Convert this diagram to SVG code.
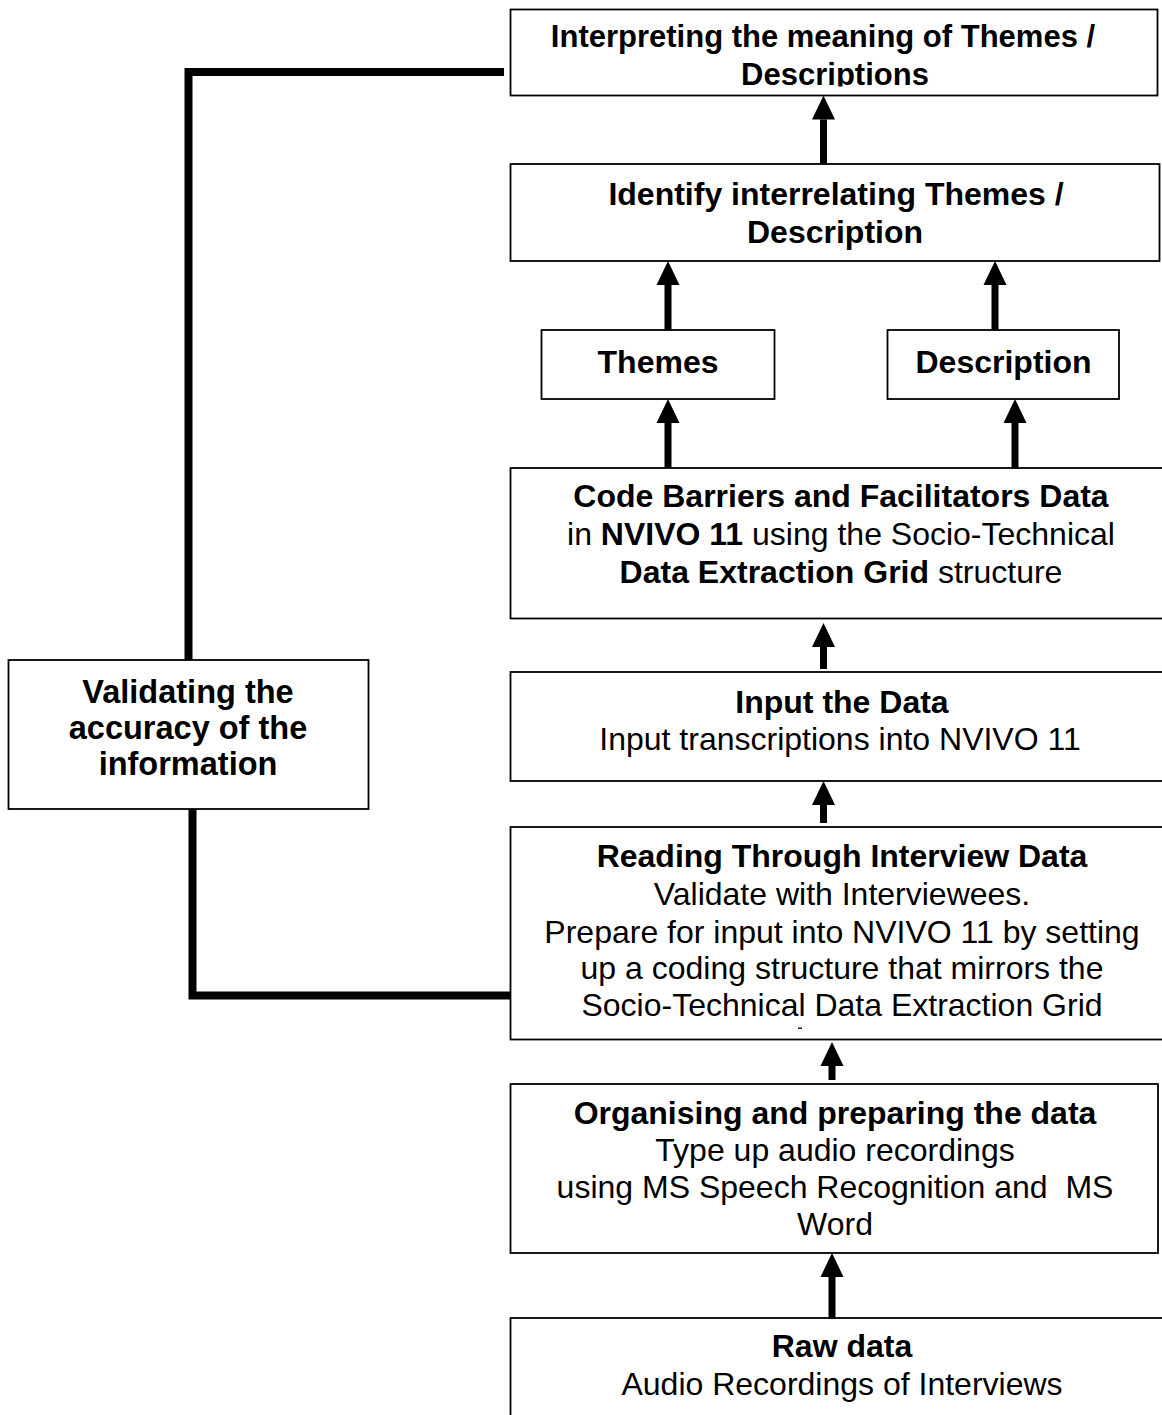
<svg xmlns="http://www.w3.org/2000/svg" width="1162" height="1415" viewBox="0 0 1162 1415">
  <style>
    .box { fill: #fff; stroke: #000; stroke-width: 1.8; }
    .t { font-family: "Liberation Sans", Arial, sans-serif; font-size: 32px; fill: #000; text-anchor: middle; }
    .b { font-weight: bold; }
    .v { font-size: 32.5px; }
    .s { font-size: 31px; }
    .arrow { stroke: #000; stroke-width: 7; fill: none; marker-end: url(#head); }
    .loop { stroke: #000; stroke-width: 8; fill: none; stroke-linejoin: miter; }
  </style>
  <defs>
    <marker id="head" markerUnits="userSpaceOnUse" markerWidth="24" markerHeight="24" viewBox="0 0 24 24" refX="0" refY="12" orient="auto">
      <path d="M0,0.5 L24,12 L0,23.5 Z" fill="#000"/>
    </marker>
    <clipPath id="clipTop">
      <rect x="510" y="10" width="648" height="76.5"/>
    </clipPath>
  </defs>

  <rect width="1162" height="1415" fill="#fff"/>

  <!-- connectors -->
  <g id="connectors">
    <path class="loop" d="M504,72 H188.5 V660"/>
    <path class="loop" d="M192.5,809 V995.5 H510"/>
    <line class="arrow" x1="823.5" y1="164" x2="823.5" y2="119.5"/>
    <line class="arrow" x1="668" y1="330" x2="668" y2="285"/>
    <line class="arrow" x1="995" y1="330" x2="995" y2="285"/>
    <line class="arrow" x1="668" y1="468" x2="668" y2="423"/>
    <line class="arrow" x1="1015" y1="468" x2="1015" y2="423"/>
    <line class="arrow" x1="823.5" y1="669" x2="823.5" y2="647"/>
    <line class="arrow" x1="823.5" y1="823" x2="823.5" y2="805"/>
    <line class="arrow" x1="832" y1="1080" x2="832" y2="1066"/>
    <line class="arrow" x1="832" y1="1318" x2="832" y2="1277"/>
  </g>

  <g id="interpreting">
    <rect class="box" x="510.5" y="9.5" width="647" height="86"/>
    <g clip-path="url(#clipTop)">
      <text class="t b s" x="823" y="47">Interpreting the meaning of Themes /</text>
      <text class="t b s" x="835" y="85">Descriptions</text>
    </g>
  </g>

  <g id="identify">
    <rect class="box" x="510.5" y="164" width="649" height="97"/>
    <text class="t b" x="836" y="204.5">Identify interrelating Themes /</text>
    <text class="t b" x="835" y="243">Description</text>
  </g>

  <g id="themes">
    <rect class="box" x="541.5" y="330" width="233" height="69"/>
    <text class="t b" x="658" y="373">Themes</text>
  </g>

  <g id="description">
    <rect class="box" x="887.5" y="330" width="231.5" height="69"/>
    <text class="t b" x="1003.5" y="373">Description</text>
  </g>

  <g id="code">
    <rect class="box" x="510.5" y="468" width="664" height="150.5"/>
    <text class="t b" x="841" y="506.5">Code Barriers and Facilitators Data</text>
    <text class="t" x="841" y="544.5">in <tspan class="b">NVIVO 11</tspan> using the Socio-Technical</text>
    <text class="t" x="841" y="583"><tspan class="b">Data Extraction Grid</tspan> structure</text>
  </g>

  <g id="input">
    <rect class="box" x="510.5" y="672" width="664" height="109"/>
    <text class="t b" x="842" y="712.5">Input the Data</text>
    <text class="t" x="840" y="749.5">Input transcriptions into NVIVO 11</text>
  </g>

  <g id="reading">
    <rect class="box" x="510.5" y="827" width="664" height="212.5"/>
    <text class="t b" x="842" y="867">Reading Through Interview Data</text>
    <text class="t" x="842" y="905">Validate with Interviewees.</text>
    <text class="t" x="842" y="942.5">Prepare for input into NVIVO 11 by setting</text>
    <text class="t" x="842" y="979">up a coding structure that mirrors the</text>
    <text class="t" x="842" y="1016">Socio-Technical Data Extraction Grid</text>
    <rect x="798" y="1027.5" width="4" height="1.5" fill="#222"/>
  </g>

  <g id="organising">
    <rect class="box" x="510.5" y="1084" width="647.5" height="169"/>
    <text class="t b" x="835" y="1123.5">Organising and preparing the data</text>
    <text class="t" x="835" y="1160.5">Type up audio recordings</text>
    <text class="t" x="835" y="1197.5" style="white-space:pre">using MS Speech Recognition and  MS</text>
    <text class="t" x="835" y="1235">Word</text>
  </g>

  <g id="raw">
    <rect class="box" x="510.5" y="1318" width="664" height="120"/>
    <text class="t b" x="842" y="1357">Raw data</text>
    <text class="t" x="842" y="1395">Audio Recordings of Interviews</text>
  </g>

  <g id="validating">
    <rect class="box" x="8.5" y="660" width="360" height="149"/>
    <text class="t b v" x="188" y="702.5">Validating the</text>
    <text class="t b v" x="188" y="738.5">accuracy of the</text>
    <text class="t b v" x="188" y="774.5">information</text>
  </g>
</svg>
